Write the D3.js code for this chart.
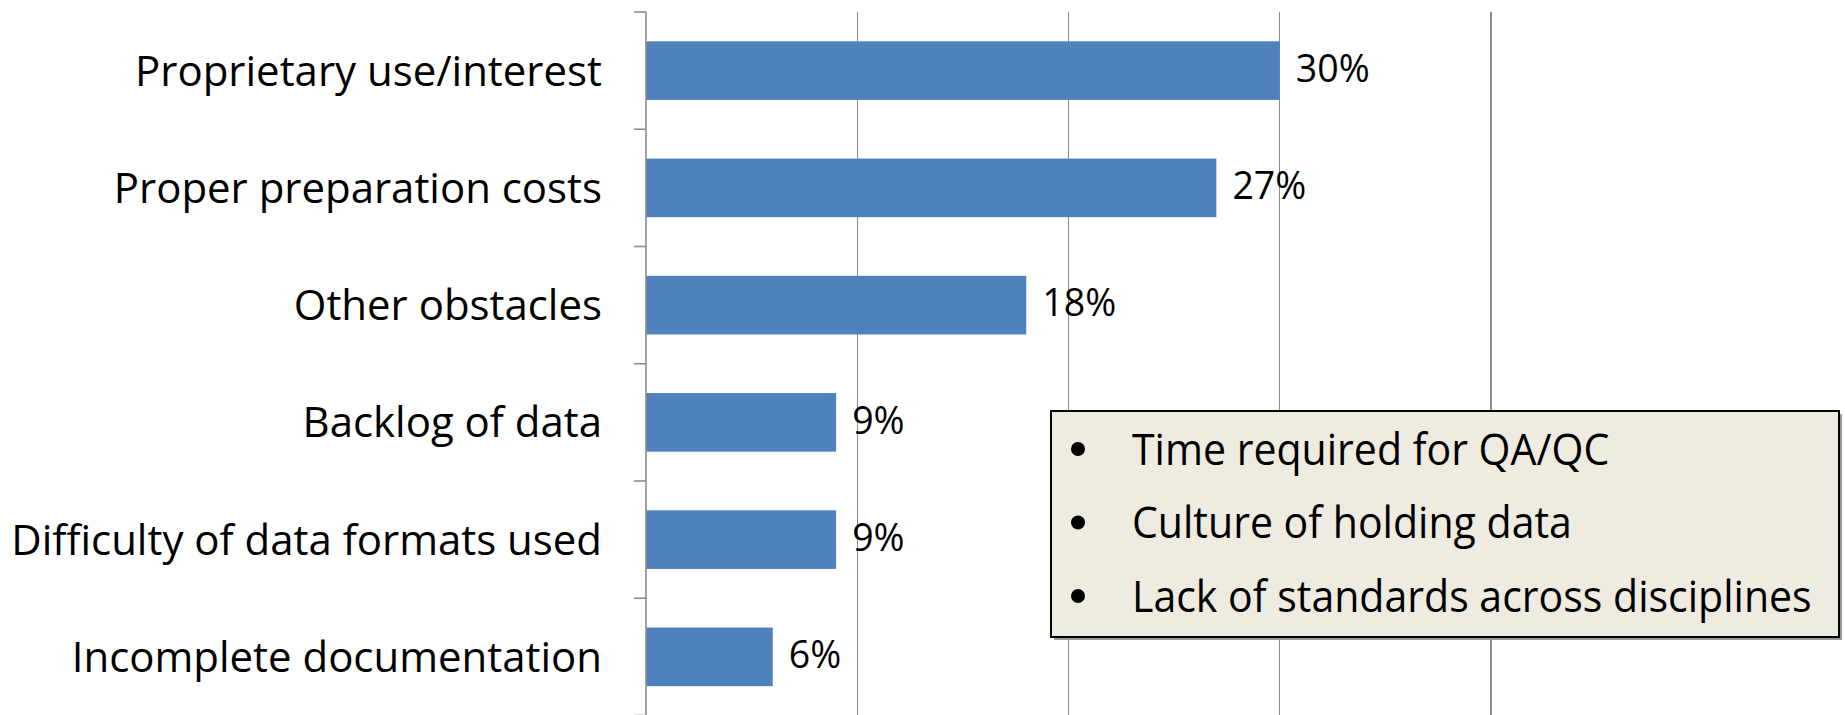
<!DOCTYPE html>
<html>
<head>
<meta charset="utf-8">
<script src="https://cdn.jsdelivr.net/npm/d3@7"></script>
<style>
  html, body { margin: 0; padding: 0; background: #ffffff; }
  svg { display: block; }
</style>
</head>
<body>
<svg id="chart" width="1845" height="715"></svg>
<script>
// ---- data ----
const categories = [
  "Proprietary use/interest",
  "Proper preparation costs",
  "Other obstacles",
  "Backlog of data",
  "Difficulty of data formats used",
  "Incomplete documentation"
];
const values = [30, 27, 18, 9, 9, 6];
const valueLabels = ["30%", "27%", "18%", "9%", "9%", "6%"];
const xTicks = [0, 10, 20, 30, 40];
const legendItems = [
  "Time required for QA/QC",
  "Culture of holding data",
  "Lack of standards across disciplines"
];

// ---- layout ----
const W = 1845, H = 715;
const plot = { left: 646, right: 1491, top: 12, bottom: 715.5 };
const barColor = "#4F81BD";
const gridColor = "#8c8c8c";
const labelFont = "'Open Sans', 'Noto Sans', sans-serif";

const svg = d3.select("#chart");

const x = d3.scaleLinear().domain([0, 40]).range([plot.left, plot.right]);
const y = d3.scaleBand().domain(categories).range([plot.top, plot.bottom])
  .paddingInner(0.5).paddingOuter(0.25);

// gridlines
svg.append("g")
  .selectAll("line")
  .data(xTicks.filter(t => t > 0))
  .join("line")
  .attr("x1", d => x(d)).attr("x2", d => x(d))
  .attr("y1", plot.top).attr("y2", plot.bottom)
  .attr("stroke", gridColor).attr("stroke-width", 1.3)
  .attr("shape-rendering", "crispEdges");

// bars
svg.append("g")
  .selectAll("rect")
  .data(values)
  .join("rect")
  .attr("x", x(0))
  .attr("y", (d, i) => y(categories[i]))
  .attr("width", d => x(d) - x(0))
  .attr("height", y.bandwidth())
  .attr("fill", barColor);

// category axis: line + ticks at band boundaries
const boundaries = d3.range(categories.length + 1).map(i => plot.top + i * (plot.bottom - plot.top) / categories.length);
const axisG = svg.append("g");
axisG.append("line")
  .attr("x1", x(0)).attr("x2", x(0))
  .attr("y1", plot.top).attr("y2", plot.bottom)
  .attr("stroke", gridColor).attr("stroke-width", 1.6);
axisG.selectAll("line.tick")
  .data(boundaries)
  .join("line")
  .attr("class", "tick")
  .attr("x1", x(0) - 12).attr("x2", x(0))
  .attr("y1", d => d).attr("y2", d => d)
  .attr("stroke", gridColor).attr("stroke-width", 1.6);

// category labels
const catLabels = svg.append("g")
  .selectAll("text")
  .data(categories)
  .join("text")
  .attr("x", 602)
  .attr("y", d => y(d) + y.bandwidth() / 2)
  .attr("dy", "0.36em")
  .attr("text-anchor", "end")
  .attr("font-family", labelFont)
  .attr("font-size", 40)
  .attr("fill", "#000")
  .text(d => d);

// fit category font size to reference width (467px for first label)
(function () {
  const w = catLabels.nodes()[0].getComputedTextLength();
  catLabels.attr("font-size", 40 * 467 / w);
})();

// value labels
svg.append("g")
  .selectAll("text")
  .data(values)
  .join("text")
  .attr("x", d => x(d) + 16)
  .attr("y", (d, i) => y(categories[i]) + y.bandwidth() / 2)
  .attr("dy", "0.3em")
  .attr("font-family", labelFont)
  .attr("font-size", 37.5)
  .attr("fill", "#000")
  .text((d, i) => valueLabels[i]);

// legend / note box
const box = { x: 1051, y: 411, w: 788, h: 226 };
const lg = svg.append("g");
lg.append("rect")
  .attr("x", box.x + 3).attr("y", box.y + 3)
  .attr("width", box.w).attr("height", box.h)
  .attr("fill", "#9a9a9a");
lg.append("rect")
  .attr("x", box.x).attr("y", box.y)
  .attr("width", box.w).attr("height", box.h)
  .attr("fill", "#EEEBE0")
  .attr("stroke", "#000").attr("stroke-width", 2);

const rowY = d3.scalePoint().domain(legendItems).range([box.y + 54, box.y + 201]);
lg.selectAll("circle")
  .data(legendItems)
  .join("circle")
  .attr("cx", 1078)
  .attr("cy", d => rowY(d) - 16)
  .attr("r", 7)
  .attr("fill", "#000");
const legTextG = lg.append("g");
const legTexts = legTextG.selectAll("text")
  .data(legendItems)
  .join("text")
  .attr("x", 0)
  .attr("y", d => rowY(d))
  .attr("font-family", labelFont)
  .attr("font-size", 43)
  .attr("fill", "#000")
  .text(d => d);
(function () {
  const w = legTexts.nodes()[2].getComputedTextLength();
  const r = 680 / w;
  legTextG.attr("transform", `translate(1132,0) scale(${r},1)`);
})();
</script>
</body>
</html>
